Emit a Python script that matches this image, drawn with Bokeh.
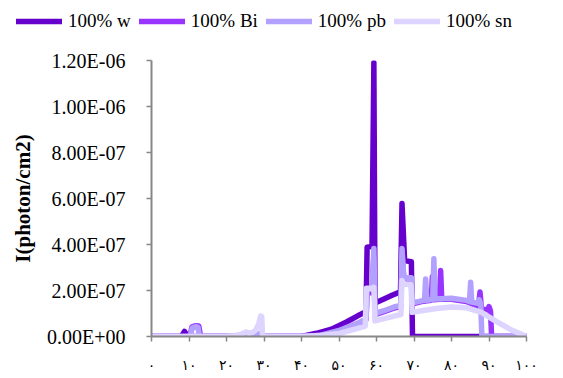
from bokeh.plotting import figure
from bokeh.models import (Legend, LegendItem, FixedTicker, CustomJSTickFormatter, Range1d)
from bokeh.embed import file_html
from bokeh.resources import INLINE

# ---------------- data ----------------
series_names = ["100% w", "100% Bi", "100% pb", "100% sn"]

w_x = [0, 8.0, 8.8, 9.6, 40, 44, 48, 52, 55, 57.2, 57.5, 58.8, 59.3, 59.6, 60.2, 62, 64, 66.4,
       66.8, 67.5, 69.3, 69.6, 100]
w_y = [0, 0, 2.2e-8, 0, 0, 1.4e-8, 3.2e-8, 6.3e-8, 9.0e-8, 1.08e-7, 3.88e-7, 3.92e-7, 1.19e-06,
       1.45e-7, 1.5e-7, 1.63e-7, 1.78e-7, 1.95e-7, 5.78e-7, 3.3e-7, 3.25e-7, 0, 0]

bi_x = [0, 10.2, 10.8, 11.8, 12.6, 13.1, 40, 45, 50, 55, 57.2, 57.5, 58.8, 59.3, 59.6, 62, 65,
        66.5, 66.8, 67.4, 69.3, 69.6, 72, 74.6, 74.9, 75.2, 76.8, 77.1, 77.4, 80, 84, 87.2,
        87.6, 88.0, 89.7, 90.0, 90.4, 90.7, 100]
bi_y = [0, 0, 4.2e-8, 4.7e-8, 4.6e-8, 0, 0, 4e-9, 2.4e-8, 5.5e-8, 7.3e-8, 1.9e-7, 1.9e-7,
        3.5e-7, 9.5e-8, 1.08e-7, 1.25e-7, 1.3e-7, 3.5e-7, 2.3e-7, 2.3e-7, 1.42e-7, 1.52e-7,
        1.58e-7, 2.6e-7, 1.6e-7, 1.62e-7, 2.87e-7, 1.62e-7, 1.62e-7, 1.52e-7, 1.3e-7,
        1.93e-7, 1.2e-7, 1.15e-7, 1.3e-7, 1.1e-7, 0, 0]

pb_x = [0, 10.3, 10.9, 11.8, 12.4, 12.8, 24, 27, 29.0, 29.3, 40, 45, 50, 55, 57.2, 57.5, 58.8,
        59.3, 59.6, 62, 65, 66.5, 66.8, 67.3, 69.3, 69.6, 72, 72.8, 73.1, 73.4, 75.0, 75.3,
        75.6, 80, 84.0, 84.8, 85.1, 85.4, 87.0, 87.4, 87.8, 88.1, 100]
pb_y = [0, 0, 3.8e-8, 4.3e-8, 4.0e-8, 0, 0, 5e-9, 1.3e-8, 0, 0, 5e-9, 2.6e-8, 5.8e-8, 7.6e-8,
        2.05e-7, 2.05e-7, 3.83e-7, 1.0e-7, 1.12e-7, 1.3e-7, 1.35e-7, 3.83e-7, 2.55e-7, 2.55e-7,
        1.46e-7, 1.55e-7, 1.57e-7, 2.5e-7, 1.58e-7, 1.62e-7, 3.38e-7, 1.63e-7, 1.66e-7,
        1.57e-7, 1.52e-7, 2.36e-7, 1.5e-7, 1.44e-7, 1.6e-7, 1.4e-7, 0, 0]

sn_x = [0, 20, 22, 24, 25.2, 26, 27, 27.8, 28.6, 29.1, 29.4, 29.6, 40, 45, 50, 55, 57.0, 57.3,
        58.8, 59.3, 59.6, 62, 65, 66.5, 66.8, 67.4, 69.2, 69.5, 72, 76, 80, 84, 88, 92, 96, 100]
sn_y = [0, 0, 3e-9, 1.0e-8, 2.0e-8, 1.3e-8, 1.8e-8, 2.8e-8, 5.5e-8, 8.9e-8, 8.7e-8, 0, 0, 4e-9,
        1.3e-8, 3.5e-8, 4.5e-8, 2.1e-7, 2.1e-7, 2.14e-7, 6.8e-8, 7.8e-8, 9.0e-8, 9.5e-8,
        2.43e-7, 2.3e-7, 2.25e-7, 1.05e-7, 1.12e-7, 1.22e-7, 1.28e-7, 1.25e-7, 1.05e-7,
        6.5e-8, 2.8e-8, 0]

colors = ["#6600CC", "#9933FF", "#B3A1FF", "#DDD4FF"]

xticks = [0, 10, 20, 30, 40, 50, 60, 70, 80, 90, 100]
xtick_labels = ["۰", "۱۰", "۲۰", "۳۰", "۴۰", "۵۰", "۶۰", "۷۰", "۸۰", "۹۰", "۱۰۰"]
yticks = [0, 2e-7, 4e-7, 6e-7, 8e-7, 1e-6, 1.2e-6]
y_title = "I(photon/cm2)"

LINE_W = 5.5
all_x = [w_x, bi_x, pb_x, sn_x]
all_y = [w_y, bi_y, pb_y, sn_y]

# ---------------- legend strip (its own root, full width frame) ----------------
# The series are drawn here too, but the y range lies far above them, so only the
# legend swatches show.
lg = figure(width=563, height=40, output_backend="svg", toolbar_location=None,
            x_range=Range1d(0, 100), y_range=Range1d(1.0, 2.0),
            min_border_left=0, min_border_right=0, min_border_top=0, min_border_bottom=0)
lg.xaxis.visible = False
lg.yaxis.visible = False
lg.xgrid.visible = False
lg.ygrid.visible = False
lg.outline_line_color = None
lg_renderers = [lg.line(xx, yy, line_color=c, line_width=LINE_W, line_cap="round")
                for xx, yy, c in zip(all_x, all_y, colors)]
legend = Legend(items=[LegendItem(label=n, renderers=[r]) for n, r in zip(series_names, lg_renderers)],
                orientation="horizontal", location=(16, 8),
                glyph_width=46, glyph_height=20, label_height=20, label_standoff=6, spacing=8,
                padding=0, margin=0, border_line_alpha=0, background_fill_alpha=0,
                label_text_font="Liberation Serif", label_text_font_size="19px",
                label_text_color="black")
lg.add_layout(legend, "center")

# ---------------- main figure ----------------
p = figure(width=563, height=336, x_range=(0, 100), y_range=(0, 1.2e-6),
           output_backend="svg", toolbar_location=None,
           min_border_left=151, min_border_right=37, min_border_top=20, min_border_bottom=40)
p.outline_line_color = None
p.xgrid.visible = False
p.ygrid.visible = False

for xx, yy, c in zip(all_x, all_y, colors):
    p.line(xx, yy, line_color=c, line_width=LINE_W, line_join="round", line_cap="round")

axis_color = "#878787"
for ax in (p.xaxis[0], p.yaxis[0]):
    ax.axis_line_color = axis_color
    ax.axis_line_width = 2
    ax.major_tick_line_color = axis_color
    ax.major_tick_line_width = 1.5
    ax.major_tick_in = 0
    ax.major_tick_out = 5
    ax.minor_tick_line_color = None
    ax.major_label_text_color = "black"

p.xaxis.ticker = FixedTicker(ticks=xticks)
p.xaxis.major_label_overrides = {t: l for t, l in zip(xticks, xtick_labels)}
p.xaxis.major_label_text_font = "DejaVu Sans"
p.xaxis.major_label_text_font_size = "14px"
p.xaxis.major_label_standoff = 15

p.yaxis.ticker = FixedTicker(ticks=yticks)
p.yaxis.formatter = CustomJSTickFormatter(code="""
    if (tick === 0) { return "0.00E+00"; }
    const e = Math.floor(Math.log10(Math.abs(tick)) + 1e-9);
    const m = tick / Math.pow(10, e);
    const a = Math.abs(e);
    return m.toFixed(2) + "E" + (e < 0 ? "-" : "+") + (a < 10 ? "0" + a : String(a));
""")
p.yaxis.major_label_text_font = "Liberation Serif"
p.yaxis.major_label_text_font_size = "20px"
p.yaxis.major_label_standoff = 21
p.yaxis.axis_label = y_title
p.yaxis.axis_label_text_font = "Liberation Serif"
p.yaxis.axis_label_text_font_style = "bold"
p.yaxis.axis_label_text_font_size = "21px"
p.yaxis.axis_label_text_color = "black"
p.yaxis.axis_label_standoff = 9

open("out.html", "w").write(file_html([lg, p], INLINE))
